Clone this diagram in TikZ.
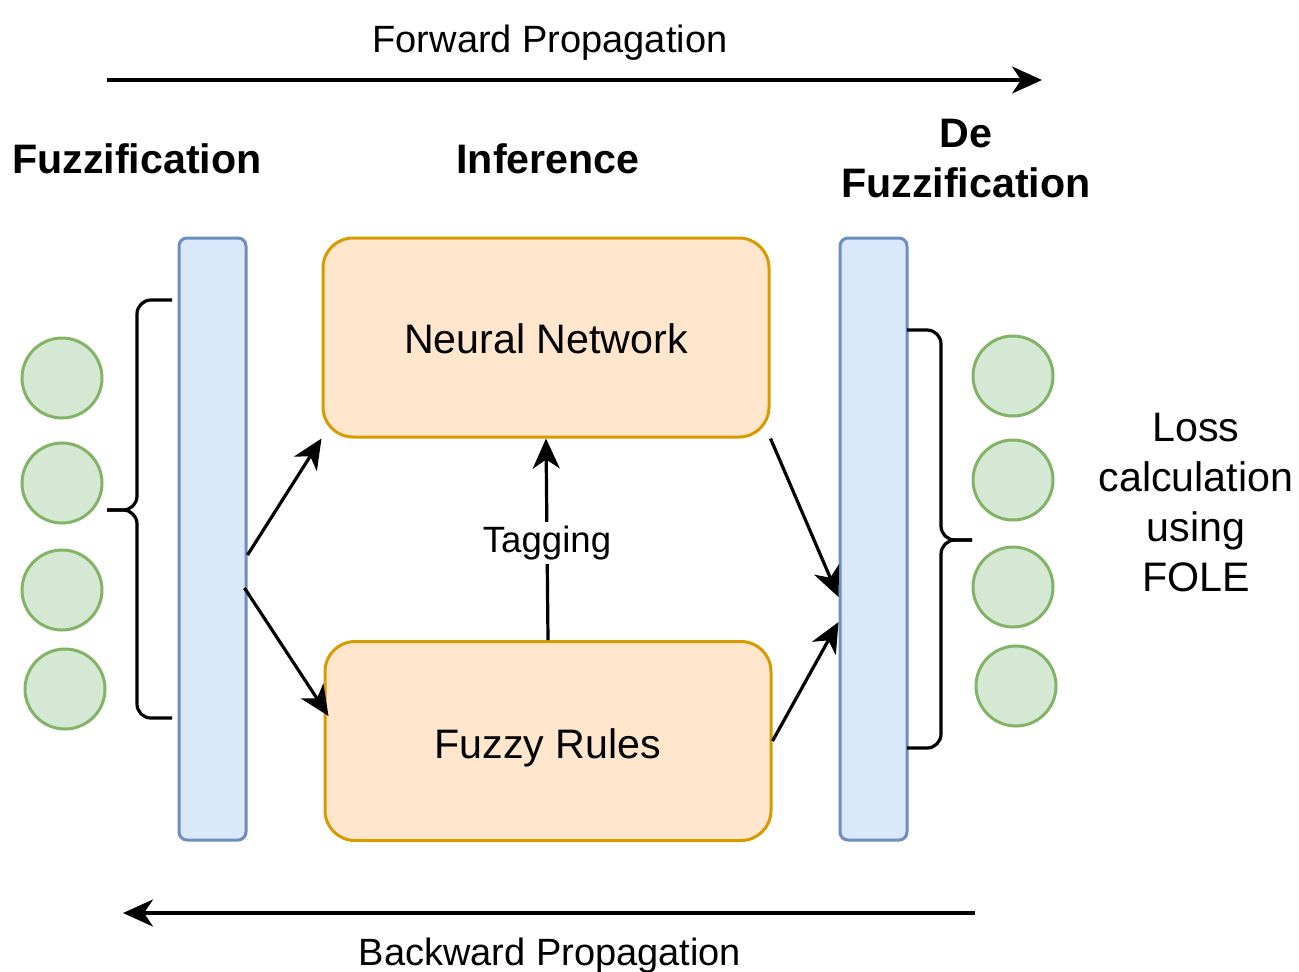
\documentclass[tikz,border=0pt]{standalone}
\usepackage{fontspec}
\setmainfont{Liberation Sans}
\usetikzlibrary{arrows.meta,calc}
\definecolor{barfill}{HTML}{DAE8FC}
\definecolor{barline}{HTML}{6C8EBF}
\definecolor{boxfill}{HTML}{FFE6CC}
\definecolor{boxline}{HTML}{D79B00}
\definecolor{cfill}{HTML}{D5E8D4}
\definecolor{cline}{HTML}{82B366}
\tikzset{
  bar/.style={draw=barline, fill=barfill, line width=1.5pt, rounded corners=4pt, minimum width=33.5pt, minimum height=301pt, inner sep=0pt},
  mainbox/.style={draw=boxline, fill=boxfill, line width=1.5pt, rounded corners=15pt, minimum width=223pt, minimum height=99.5pt, font=\fontsize{20.6}{24}\selectfont, text height=18pt},
  neuron/.style={circle, draw=cline, fill=cfill, line width=1.5pt, minimum size=40pt, inner sep=0pt},
  heading/.style={font=\fontsize{20.6}{25}\selectfont\bfseries, align=center},
  plain/.style={font=\fontsize{19}{24}\selectfont},
  conn/.style={line width=1.6pt, -{Stealth[length=15pt,width=13.5pt,inset=4.5pt]}},
  brace/.style={line width=1.6pt, rounded corners=7pt}
}
\begin{document}
\begin{tikzpicture}[x=0.5pt,y=-0.5pt]
\useasboundingbox (0,0) rectangle (1299,971);
% propagation arrows
\node[plain] (fwdtxt) at (550,43) {Forward Propagation};
\coordinate (fwdA) at (107,80);
\coordinate (fwdB) at (1042,80);
\draw[conn] (fwdA) -- (fwdB);
\node[plain] (bwdtxt) at (550,956) {Backward Propagation};
\coordinate (bwdA) at (975,913);
\coordinate (bwdB) at (123,913);
\draw[conn] (bwdA) -- (bwdB);
% headings
\node[heading] (hfuzz) at (137,159) {Fuzzification};
\node[heading] (hinf) at (548,159) {Inference};
\node[heading] (hdefuzz) at (966,159) {De\\Fuzzification};
% bars
\node[bar] (lbar) at (212.5,539) {};
\node[bar] (rbar) at (873.5,539) {};
% boxes
\node[mainbox, text depth=1.7pt] (nn) at (546,337.5) {Neural Network};
\node[mainbox, text depth=0.2pt] (fr) at (548,741) {Fuzzy Rules};
% neurons
\node[neuron] (l1) at (62,378) {};
\node[neuron] (l2) at (62,483) {};
\node[neuron] (l3) at (62,590) {};
\node[neuron] (l4) at (65,689) {};
\node[neuron] (r1) at (1013,376) {};
\node[neuron] (r2) at (1013,480) {};
\node[neuron] (r3) at (1013,587) {};
\node[neuron] (r4) at (1016,686) {};
% braces
\coordinate (lbtip) at (107,510);
\draw[brace] (172,300) -- (137,300) -- (137,510) -- (lbtip);
\draw[brace] (172,718) -- (137,718) -- (137,510) -- (lbtip);
\coordinate (rbtip) at (972,540);
\draw[brace] (907,330) -- (941,330) -- (941,540) -- (rbtip);
\draw[brace] (907,748) -- (941,748) -- (941,540) -- (rbtip);
% loss text
\node[font=\fontsize{20.6}{25}\selectfont, align=center] (loss) at (1196,503) {Loss\\calculation\\using\\FOLE};
% connectors
\draw[conn] ($(lbar.east)+(0,16)$) -- (nn.south west);
\draw[conn] ($(lbar.east)+(-3,49)$) -- ($(fr.west)+(5,-25)$);
\draw[conn] (nn.south east) -- ($(rbar.west)+(0,58)$);
\draw[conn] (fr.east) -- ($(rbar.west)+(0,83)$);
\draw[conn] (fr.north) -- (nn.south) node[pos=0.5, yshift=-2pt, fill=white, inner sep=2pt, font=\fontsize{18.3}{22}\selectfont] (tag) {Tagging};
\end{tikzpicture}
\end{document}
